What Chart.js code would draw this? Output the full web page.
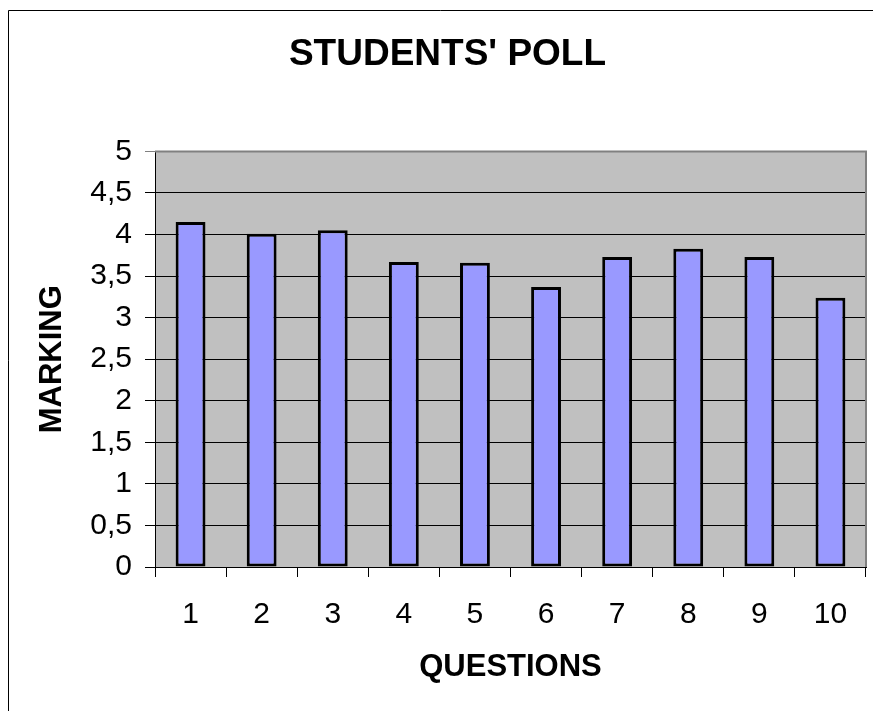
<!DOCTYPE html>
<html>
<head>
<meta charset="utf-8">
<title>Students' Poll</title>
<script src="https://cdn.jsdelivr.net/npm/chart.js@4/dist/chart.umd.min.js"></script>
<style>
    html, body { margin: 0; padding: 0; background: #fff; }
    canvas { display: block; }
</style>
</head>
<body>
<canvas id="pollChart" width="873" height="711"></canvas>
<script>
/* ── Data ── */
const questions = ['1', '2', '3', '4', '5', '6', '7', '8', '9', '10'];
const markings = [4.15, 4.01, 4.05, 3.67, 3.66, 3.37, 3.73, 3.83, 3.73, 3.24];
const yTicks = [0, 0.5, 1, 1.5, 2, 2.5, 3, 3.5, 4, 4.5, 5];

const FONT = "'Liberation Sans', Arial, sans-serif";

/* Plot background, plot frame and the outer chart frame */
const framePlugin = {
    id: 'frame',
    beforeDraw(chart) {
        const { ctx, chartArea: a } = chart;
        ctx.save();
        // outer border (runs off the right and bottom edges)
        ctx.strokeStyle = '#000';
        ctx.lineWidth = 1;
        ctx.beginPath();
        ctx.moveTo(8.5, chart.height);
        ctx.lineTo(8.5, 10.5);
        ctx.lineTo(chart.width, 10.5);
        ctx.stroke();
        // grey plot area
        ctx.fillStyle = '#c0c0c0';
        ctx.fillRect(a.left, a.top, a.right - a.left, a.bottom - a.top);
        ctx.restore();
    },
    afterDatasetsDraw(chart) {
        const { ctx, chartArea: a } = chart;
        ctx.save();
        ctx.strokeStyle = '#808080';
        ctx.lineWidth = 2;
        ctx.beginPath();
        ctx.moveTo(a.left, a.top);
        ctx.lineTo(a.right, a.top);
        ctx.lineTo(a.right, a.bottom);
        ctx.stroke();
        ctx.restore();
    }
};

new Chart(document.getElementById('pollChart'), {
    type: 'bar',
    data: {
        labels: questions,
        datasets: [{
            data: markings,
            backgroundColor: '#9999ff',
            borderColor: '#000',
            borderWidth: 3,
            borderSkipped: false,
            categoryPercentage: 1,
            barPercentage: 0.42,
        }]
    },
    options: {
        responsive: false,
        devicePixelRatio: 1,
        animation: false,
        layout: {
            padding: { left: 29, right: 7, top: 0, bottom: 0 }
        },
        plugins: {
            legend: { display: false },
            tooltip: { enabled: false },
            title: {
                display: true,
                text: "STUDENTS' POLL",
                color: '#000',
                font: { family: FONT, size: 37, weight: 'bold' },
                padding: { top: 33, bottom: 74 }
            }
        },
        scales: {
            x: {
                afterFit(scale) { scale.height = 144; },
                grid: {
                    drawOnChartArea: false,
                    drawTicks: true,
                    tickLength: 10,
                    color: '#000',
                },
                border: { display: true, color: '#000', width: 1 },
                ticks: {
                    color: '#000',
                    padding: 20,
                    font: { family: FONT, size: 30 }
                },
                title: {
                    display: true,
                    text: 'QUESTIONS',
                    color: '#000',
                    font: { family: FONT, size: 31, weight: 'bold' },
                    padding: { top: 0, bottom: 25 }
                }
            },
            y: {
                min: 0,
                max: 5,
                afterFit(scale) { scale.width = 126; },
                afterBuildTicks(scale) {
                    scale.ticks = yTicks.map(v => ({ value: v }));
                },
                grid: {
                    color: (c) => c.tick && c.tick.value === 5 ? '#808080' : '#000',
                    lineWidth: 1,
                    tickLength: 10,
                },
                border: { display: true, color: '#000', width: 1 },
                ticks: {
                    color: '#000',
                    padding: 13,
                    font: { family: FONT, size: 30 },
                    callback: (value) => String(value).replace('.', ',')
                },
                title: {
                    display: true,
                    text: 'MARKING',
                    color: '#000',
                    font: { family: FONT, size: 31, weight: 'bold' },
                    padding: { top: 5, bottom: 0 }
                }
            }
        }
    },
    plugins: [framePlugin]
});
</script>
</body>
</html>
